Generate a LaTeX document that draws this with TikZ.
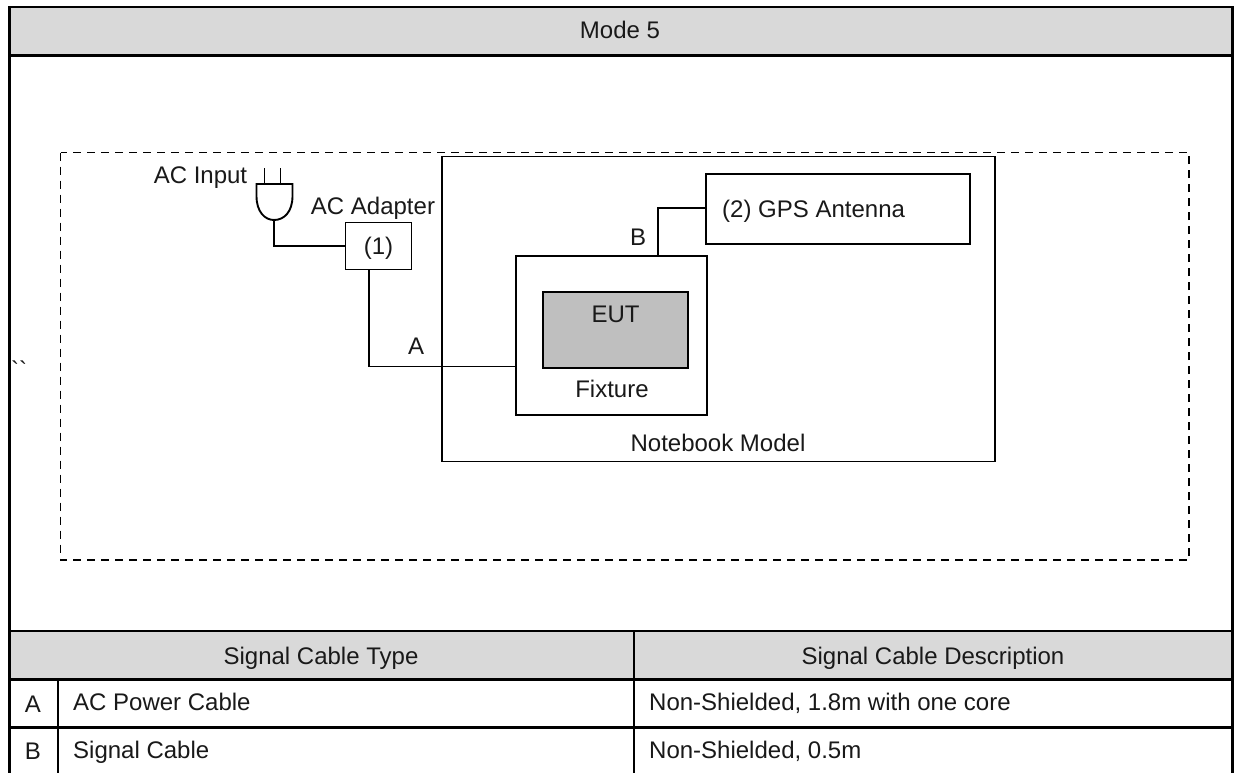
\documentclass[tikz,border=0pt]{standalone}
\usepackage{fontspec}
\setmainfont{Liberation Sans}
\newfontfamily\rawfont{Liberation Sans}
\definecolor{hdrgray}{HTML}{D9D9D9}
\definecolor{eutgray}{HTML}{BFBFBF}
\tikzset{
  x=1pt,y=-1pt,
  tline/.style={draw=black,line width=2.5pt},
  wire/.style={draw=black,line width=1.9pt},
  lbl/.style={inner sep=0pt,font=\fontsize{24}{28}\selectfont,text=black!90},
  cell/.style={lbl,anchor=base west},
  ccell/.style={lbl,anchor=base},
  hdr/.style={fill=hdrgray,draw=none},
  plainbox/.style={draw=black,line width=1.9pt,inner sep=0pt}
}
\begin{document}
\begin{tikzpicture}
\useasboundingbox (0,0) rectangle (1239,773);
\fill[white] (0,0) rectangle (1239,773);
% header fills
\fill[hdr] (9,7) rectangle (1232,55);
\fill[hdr] (9,632) rectangle (1232,680);
% table lines
\coordinate (tl) at (9.3,7);
\coordinate (tr) at (1232.3,7);
\coordinate (bl) at (9.3,773);
\coordinate (br) at (1232.3,773);
\draw[tline] (bl) -- (tl) -- (tr) -- (br);
\draw[draw=black,line width=3pt] (9.3,55.5) -- (1232.3,55.5);
\draw[tline] (9.3,631) -- (1232.3,631);
\draw[tline] (9.3,679.3) -- (1232.3,679.3);
\draw[tline] (9.3,727.7) -- (1232.3,727.7);
\draw[tline] (57.8,679.3) -- (57.8,773);
\draw[tline] (634,631) -- (634,773);
% dashed area
\draw[line width=1.9pt,dash pattern=on 8pt off 6pt] (60.5,152.5) rectangle (1189,560);
% boxes
\node[plainbox,minimum width=553pt,minimum height=305pt] (nb) at (718.5,309) {};
\node[lbl,anchor=base] (nbl) at (718,451) {Notebook Model};
\node[plainbox,minimum width=264pt,minimum height=70pt] (gps) at (838,209) {};
\node[lbl,anchor=base west] (gpsl) at (722,217) {(2) GPS Antenna};
\node[plainbox,minimum width=191pt,minimum height=159pt] (fix) at (611.5,335.5) {};
\node[plainbox,fill=eutgray,minimum width=145pt,minimum height=76pt] (eut) at (615.5,330) {};
\node[lbl,anchor=base] (eutl) at (615.5,322) {EUT};
\node[lbl,anchor=base] (fixl) at (612,397) {Fixture};
\node[plainbox,minimum width=66pt,minimum height=47pt] (ad) at (378.5,246) {};
\node[lbl,anchor=base] (adl) at (378.5,254) {(1)};
\node[lbl,anchor=base] (adt) at (373,214) {AC Adapter};
\node[lbl,anchor=base] (aci) at (200.5,183) {AC Input};
% plug
\coordinate (plugb) at (274,220);
\draw[wire] (256.5,184) -- (292.5,184) -- (292.5,196) .. controls (292.5,212) and (284,220) .. (plugb) .. controls (265,220) and (256.5,212) .. (256.5,196) -- cycle;
\draw[wire] (264.5,184) -- (264.5,168);
\draw[wire] (280.5,184) -- (280.5,168);
% wires
\coordinate (adb) at (369,269.5);
\coordinate (fixa) at (515,366.5);
\coordinate (fixb) at (658,256);
\coordinate (gpsb) at (706,208);
\draw[wire] (plugb) |- (ad.west);
\draw[wire] (adb) |- (fixa);
\draw[wire] (fixb) |- (gpsb);
% cable labels
\node[lbl,anchor=base] (la) at (416,354) {A};
\node[lbl,anchor=base] (lb) at (638,245) {B};
% stray
\node[lbl,anchor=base west] (st) at (11,378) {\rawfont ``};
% table text
\node[ccell] (m5) at (620,39) {Mode 5};
\node[ccell] (h1) at (321,664) {Signal Cable Type};
\node[ccell] (h2) at (933,664) {Signal Cable Description};
\node[ccell] (ra) at (33,712) {A};
\node[ccell] (rb) at (33,759) {B};
\node[cell] (a1) at (73,710) {AC Power Cable};
\node[cell] (b1) at (73,758) {Signal Cable};
\node[cell] (a2) at (649,710) {Non-Shielded, 1.8m with one core};
\node[cell] (b2) at (649,758) {Non-Shielded, 0.5m};
\end{tikzpicture}
\end{document}
